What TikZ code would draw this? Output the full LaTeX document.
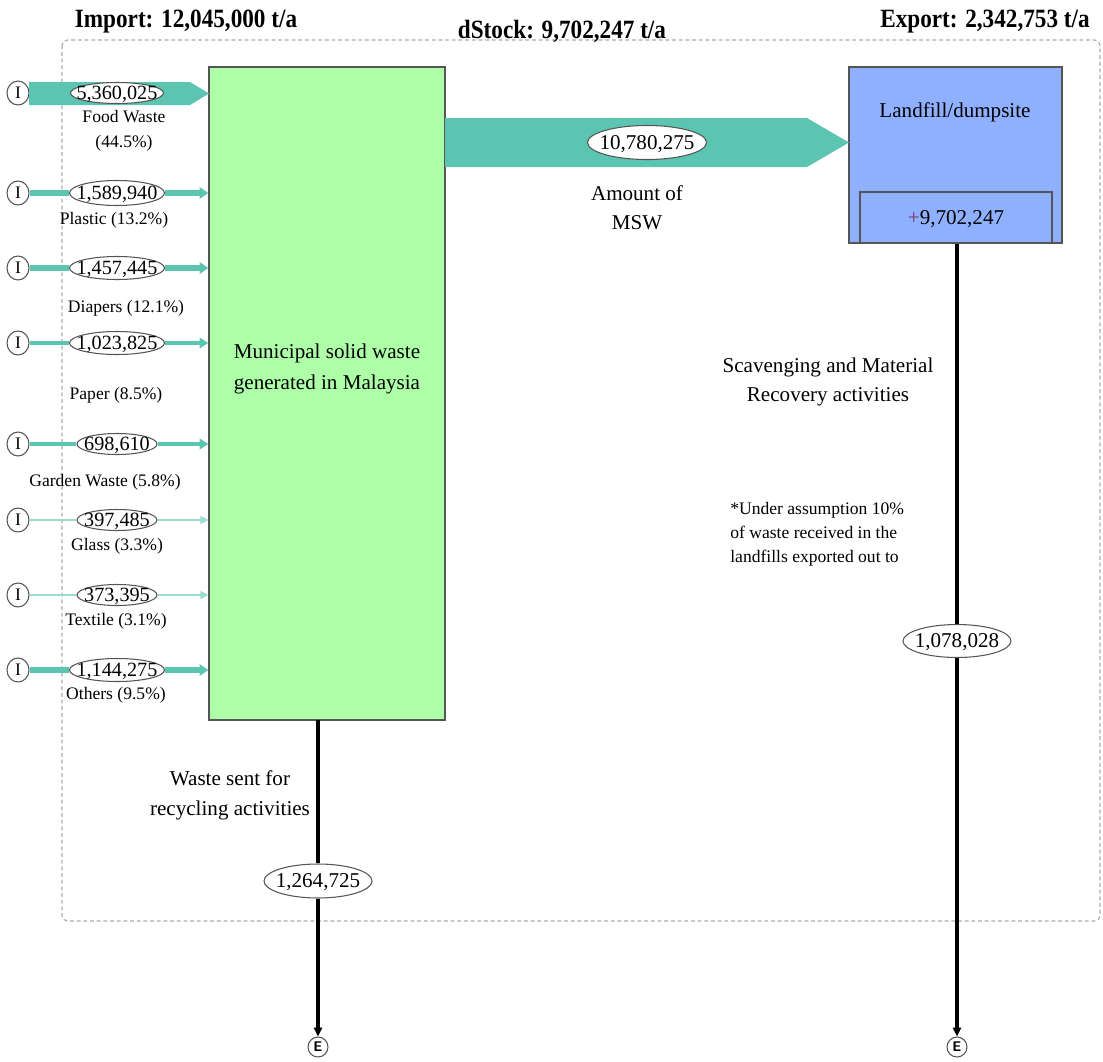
\documentclass[tikz,border=0pt]{standalone}
\usepackage{fontspec}
\setmainfont{Liberation Serif}
\newfontfamily\hdrfont[FakeStretch=0.88]{Liberation Serif}
\usetikzlibrary{arrows.meta,shapes.geometric}
\definecolor{flow}{HTML}{5BC5B1}
\definecolor{flowlight}{HTML}{9ADDD0}
\definecolor{procgreen}{HTML}{ADFFA8}
\definecolor{procblue}{HTML}{8FAFFF}
\definecolor{bord}{HTML}{555555}
\definecolor{plus}{HTML}{7A3A6A}
\newdimen\PX \PX=0.02cm
\newcommand\vt[1]{\makebox[0pt]{\raisebox{-0.33em}[0pt][0pt]{#1}}}
\begin{document}
\begin{tikzpicture}[x=0.02cm,y=-0.02cm,
  val/.style={ellipse, draw=bord, fill=white, inner sep=0pt, line width=0.6pt,
    minimum height=23*\PX, font=\fontsize{11.5}{13}\selectfont},
  bigval/.style={val, minimum height=34*\PX, font=\fontsize{12}{14}\selectfont},
  src/.style={ellipse, draw=bord, fill=white, inner sep=0pt, minimum width=22*\PX,
    minimum height=24*\PX, line width=0.6pt, font=\fontsize{10}{12}\selectfont},
  snk/.style={circle, draw=bord, fill=white, inner sep=0pt, minimum size=20*\PX,
    line width=0.6pt, font=\sffamily\bfseries\fontsize{8}{9}\selectfont},
  lbl/.style={font=\fontsize{10}{14}\selectfont, inner sep=0pt, align=center},
  txt/.style={font=\fontsize{12}{16.5}\selectfont, inner sep=0pt, align=center},
  hdr/.style={font=\hdrfont\bfseries\fontsize{15}{17}\selectfont, inner sep=0pt, anchor=base},
  fthick/.style={draw=flow, line width=3.2pt, -{Triangle[length=5pt,width=6.5pt]}},
  fmid/.style={draw=flow, line width=2.2pt, -{Triangle[length=5pt,width=6pt]}},
  fthin/.style={draw=flowlight, line width=1pt, -{Triangle[length=4.5pt,width=4.5pt]}},
  fthinnoarrow/.style={draw=flowlight, line width=1pt},
  fthicknoarrow/.style={draw=flow, line width=3.2pt},
  fmidnoarrow/.style={draw=flow, line width=2.2pt},
  blk/.style={draw=black, line width=1.8pt},
  blkarrow/.style={blk, -{Triangle[length=5pt,width=4.5pt]}}
]
\useasboundingbox (0,0) rectangle (1103,1062);

% system boundary
\draw[gray!65, line width=0.7pt, dash pattern=on 2.2pt off 1.6pt, rounded corners=3pt] (62,40) rectangle (1100,921);

% headers
\node[hdr] (himp) at (186,27) {Import: 12,045,000 t/a};
\node[hdr] (hst) at (562,38) {dStock: 9,702,247 t/a};
\node[hdr] (hexp) at (985,27) {Export: 2,342,753 t/a};

% processes
\node[draw=bord, fill=procgreen, line width=0.8pt, inner sep=0pt,
  minimum width=236*\PX, minimum height=653*\PX] (gbox) at (327,393.5) {};
\node[txt, font=\fontsize{12}{18}\selectfont] (gtxt) at (327,369) {Municipal solid waste\\generated in Malaysia};

\node[draw=bord, fill=procblue, line width=0.8pt, inner sep=0pt,
  minimum width=213*\PX, minimum height=176*\PX] (lbox) at (955.5,155) {};
\node[txt] (ltxt) at (955,112) {Landfill/dumpsite};
\node[draw=bord, line width=0.8pt, inner sep=0pt,
  minimum width=192*\PX, minimum height=51*\PX] (stock) at (956,217.5) {};
\node[txt] (stxt) at (956,219) {{\color{plus}+}9,702,247};

% food waste (wide arrow)
\node[src] (s1) at (18,93) {I};
\fill[flow] (29,82) -- (190,82) -- (209,93.5) -- (190,105) -- (29,105) -- cycle;
\node[val, minimum width=93*\PX, minimum height=21*\PX] (v1) at (117,93) {\vt{5,360,025}};
\node[lbl] (l1) at (124,130.5) {Food Waste\\(44.5\%)};

% plastic
\node[src] (s2) at (18,193) {I};
\node[val, minimum width=95*\PX, minimum height=25*\PX] (v2) at (117,193) {\vt{1,589,940}};
\draw[fthicknoarrow] (s2.east) -- (v2.west);
\draw[fthick] (v2.east) -- (v2.east -| gbox.west);
\node[lbl] (l2) at (114,220) {Plastic (13.2\%)};

% diapers
\node[src] (s3) at (18,268) {I};
\node[val, minimum width=95*\PX] (v3) at (117,268) {\vt{1,457,445}};
\draw[fthicknoarrow] (s3.east) -- (v3.west);
\draw[fthick] (v3.east) -- (v3.east -| gbox.west);
\node[lbl] (l3) at (126,308) {Diapers (12.1\%)};

% paper
\node[src] (s4) at (18,343) {I};
\node[val, minimum width=95*\PX] (v4) at (117,343) {\vt{1,023,825}};
\draw[fmidnoarrow] (s4.east) -- (v4.west);
\draw[fmid] (v4.east) -- (v4.east -| gbox.west);
\node[lbl] (l4) at (116,395) {Paper (8.5\%)};

% garden waste
\node[src] (s5) at (18,444) {I};
\node[val, minimum width=80*\PX, minimum height=21*\PX] (v5) at (117,444) {\vt{698,610}};
\draw[fmidnoarrow] (s5.east) -- (v5.west);
\draw[fmid] (v5.east) -- (v5.east -| gbox.west);
\node[lbl] (l5) at (105,482) {Garden Waste (5.8\%)};

% glass
\node[src] (s6) at (18,520) {I};
\node[val, minimum width=80*\PX, minimum height=21*\PX] (v6) at (117,520) {\vt{397,485}};
\draw[fthinnoarrow] (s6.east) -- (v6.west);
\draw[fthin] (v6.east) -- (v6.east -| gbox.west);
\node[lbl] (l6) at (117,546) {Glass (3.3\%)};

% textile
\node[src] (s7) at (18,595) {I};
\node[val, minimum width=80*\PX, minimum height=21*\PX] (v7) at (117,595) {\vt{373,395}};
\draw[fthinnoarrow] (s7.east) -- (v7.west);
\draw[fthin] (v7.east) -- (v7.east -| gbox.west);
\node[lbl] (l7) at (116,621) {Textile (3.1\%)};

% others
\node[src] (s8) at (18,670) {I};
\node[val, minimum width=95*\PX] (v8) at (117,670) {\vt{1,144,275}};
\draw[fthicknoarrow] (s8.east) -- (v8.west);
\draw[fthick] (v8.east) -- (v8.east -| gbox.west);
\node[lbl] (l8) at (116,695) {Others (9.5\%)};

% MSW flow to landfill
\fill[flow] (445,118) -- (807,118) -- (849,142.5) -- (807,167) -- (445,167) -- cycle;
\node[bigval, minimum width=119*\PX] (vmsw) at (647,142.5) {\vt{10,780,275}};
\node[txt] (lmsw) at (637,207.5) {Amount of\\MSW};

% recycling export
\coordinate (gout) at (318,720);
\node[bigval, minimum width=108*\PX] (vrec) at (318,881) {\vt{1,264,725}};
\node[snk] (e1) at (318,1047) {E};
\draw[blk] (gout) -- (vrec.north);
\draw[blkarrow] (vrec.south) -- (e1.north);
\node[txt, font=\fontsize{12}{17}\selectfont] (lrec) at (230,795) {Waste sent for\\recycling activities};

% scavenging export
\node[bigval, minimum width=108*\PX, minimum height=33*\PX] (vscv) at (957,641) {\vt{1,078,028}};
\node[snk] (e2) at (957,1047) {E};
\draw[blk] (lbox.south -| vscv) -- (vscv.north);
\draw[blkarrow] (vscv.south) -- (e2.north);
\node[txt] (lscv) at (828,381.5) {Scavenging and Material\\Recovery activities};
\node[lbl, font=\fontsize{10}{13.6}\selectfont, align=left, anchor=west] (lnote) at (730,534)
  {*Under assumption 10\%\\of waste received in the\\landfills exported out to};
\end{tikzpicture}
\end{document}
